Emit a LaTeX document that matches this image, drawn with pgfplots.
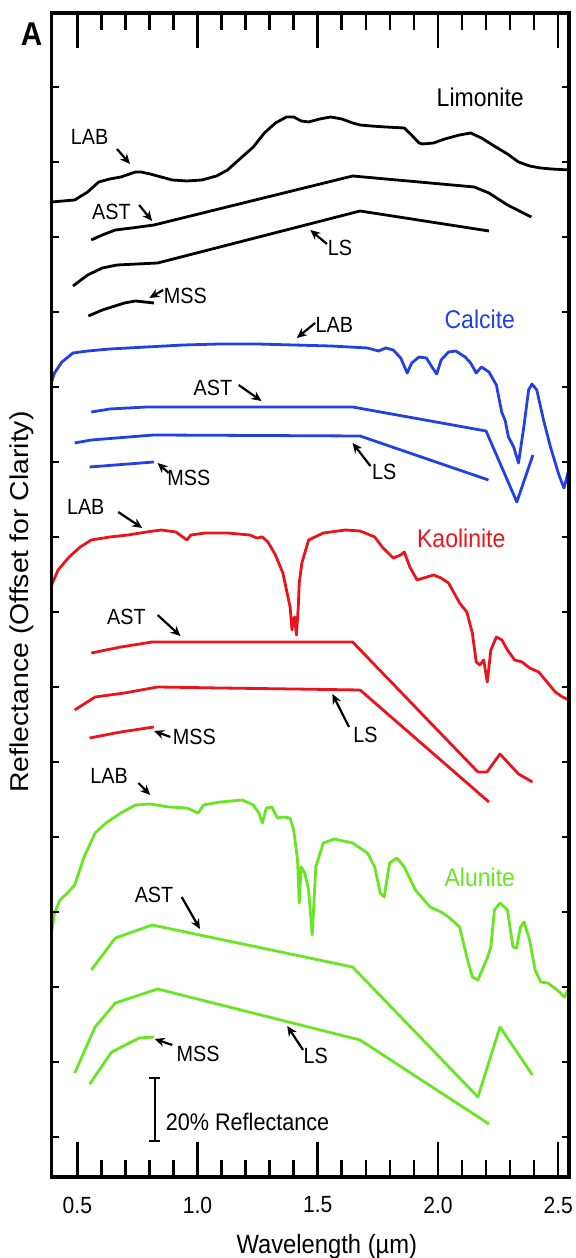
\documentclass[border=0pt]{standalone}
\usepackage{fontspec}
\setmainfont{Liberation Sans}[FakeStretch=0.9]
\newfontfamily\ylabfont{Liberation Sans}[FakeStretch=1.1]
\usepackage{pgfplots}
\pgfplotsset{compat=1.18}
\usetikzlibrary{arrows.meta}
\definecolor{cblue}{RGB}{35,65,225}
\definecolor{cred}{RGB}{232,22,28}
\definecolor{cgreen}{RGB}{105,230,35}

\pgfplotsset{
  boxaxis/.style={
    width=258.7pt, height=582pt, scale only axis,
    at={(0,0)}, anchor=south west,
    xmin=0.393, xmax=2.545,
    axis line style={line width=1.6pt},
  },
  specaxis/.style={boxaxis, ymin=-40, ymax=1124},
}
\tikzset{
  lbl/.style={font=\fontsize{11}{12}\selectfont},
  mineral/.style={font=\fontsize{12.8}{14}\selectfont},
  arr/.style={-{Stealth[length=5pt,width=4.5pt]}, line width=1.1pt, black},
  tk/.style={line width=1.3pt, black},
}

\begin{document}
\begin{tikzpicture}
% data axis
\begin{axis}[specaxis,
  xtick=\empty, ytick=\empty,
  xlabel={Wavelength (µm)},
  xlabel style={font=\fontsize{13.2}{14}\selectfont, at={(axis description cs:0.532,0)}, anchor=center, yshift=-35pt},
  ylabel={\ylabfont Reflectance (Offset for Clarity)},
  ylabel style={font=\fontsize{12.9}{14}\selectfont, at={(axis description cs:-0.058,0.494)}, anchor=center},
  every axis plot/.append style={line width=1.4pt, no markers, line join=round},
]
% ---- Limonite (black)
\addplot[black] coordinates {(0.393,935) (0.489,937) (0.543,945) (0.589,955) (0.635,958) (0.681,960) (0.742,965) (0.765,965) (0.803,963) (0.849,960) (0.895,957) (0.956,956) (1.018,957) (1.079,961) (1.125,967) (1.171,977) (1.232,990) (1.278,1004) (1.324,1014) (1.370,1020) (1.400,1020) (1.431,1016) (1.462,1015) (1.508,1018) (1.554,1020) (1.600,1018) (1.645,1014) (1.676,1012) (1.722,1011) (1.783,1010) (1.860,1009) (1.890,1002) (1.921,994) (1.936,993) (1.982,994) (2.028,998) (2.090,1002) (2.136,1004) (2.181,999) (2.227,992) (2.289,983) (2.335,975) (2.381,971) (2.426,969) (2.472,968) (2.545,967)};
\addplot[black] coordinates {(0.558,897) (0.604,902) (0.658,907) (0.727,909) (0.819,912) (1.645,961) (2.151,950) (2.212,944) (2.289,932) (2.388,920)};
\addplot[black] coordinates {(0.482,851) (0.543,862) (0.604,869) (0.665,872) (0.834,874) (1.676,926) (2.212,906)};
\addplot[black] coordinates {(0.546,821) (0.604,827) (0.696,834) (0.742,836) (0.819,834)};
% ---- Calcite (blue)
\addplot[cblue] coordinates {(0.393,755) (0.405,764) (0.436,775) (0.482,784) (0.543,786) (0.635,788) (0.788,790) (0.941,792) (1.094,793) (1.247,793) (1.400,792) (1.554,791) (1.707,789) (1.753,786) (1.783,789) (1.814,787) (1.845,779) (1.872,764) (1.891,774) (1.921,780) (1.952,779) (1.975,770) (1.995,763) (2.013,777) (2.044,785) (2.074,786) (2.113,780) (2.136,774) (2.159,764) (2.181,770) (2.212,765) (2.243,752) (2.265,725) (2.280,716) (2.293,700) (2.315,690) (2.335,674) (2.357,710) (2.377,747) (2.391,753) (2.411,747) (2.440,716) (2.468,690) (2.503,662) (2.524,649) (2.545,668)};
\addplot[cblue] coordinates {(0.558,725) (0.635,728) (0.788,730) (1.645,730) (2.200,706) (2.328,635) (2.395,682)};
\addplot[cblue] coordinates {(0.489,694) (0.558,697) (0.818,702) (1.676,701) (2.210,657)};
\addplot[cblue] coordinates {(0.551,670) (0.818,675)};
% ---- Kaolinite (red)
\addplot[cred] coordinates {(0.393,552) (0.420,567) (0.466,580) (0.512,590) (0.558,597) (0.635,600) (0.711,602) (0.788,605) (0.849,607) (0.910,605) (0.956,597) (0.972,602) (1.033,604) (1.125,604) (1.217,602) (1.247,599) (1.270,600) (1.293,595) (1.324,582) (1.355,564) (1.370,547) (1.385,530) (1.393,507) (1.397,517) (1.404,520) (1.411,502) (1.419,530) (1.423,554) (1.434,574) (1.462,597) (1.523,604) (1.615,607) (1.676,606) (1.737,600) (1.768,590) (1.814,579) (1.845,582) (1.860,585) (1.883,570) (1.913,557) (1.982,562) (2.013,559) (2.044,554) (2.090,534) (2.120,525) (2.143,504) (2.159,475) (2.174,472) (2.190,477) (2.205,455) (2.220,487) (2.243,500) (2.266,497) (2.289,487) (2.319,477) (2.350,475) (2.381,469) (2.419,465) (2.457,454) (2.488,445) (2.518,440) (2.545,437)};
\addplot[cred] coordinates {(0.558,484) (0.681,490) (0.811,495) (1.645,495) (2.166,365) (2.204,365) (2.258,383) (2.335,363) (2.393,355)};
\addplot[cred] coordinates {(0.489,427) (0.574,440) (0.696,444) (0.834,450) (1.094,449) (1.400,448) (1.676,447) (2.212,335)};
\addplot[cred] coordinates {(0.551,399) (0.681,405) (0.818,410)};
% ---- Alunite (green)
\addplot[cgreen] coordinates {(0.393,205) (0.405,224) (0.428,237) (0.459,244) (0.489,252) (0.528,280) (0.574,304) (0.619,314) (0.681,324) (0.742,332) (0.803,333) (0.880,330) (0.956,329) (1.002,324) (1.025,332) (1.094,335) (1.186,337) (1.232,332) (1.255,324) (1.270,314) (1.286,329) (1.309,330) (1.332,319) (1.355,320) (1.385,319) (1.400,307) (1.416,277) (1.423,234) (1.431,270) (1.446,264) (1.462,247) (1.477,202) (1.492,270) (1.523,294) (1.569,298) (1.645,294) (1.707,284) (1.737,270) (1.760,244) (1.776,240) (1.799,274) (1.829,279) (1.860,270) (1.906,247) (1.967,230) (2.013,225) (2.044,220) (2.090,210) (2.120,180) (2.143,160) (2.166,157) (2.189,170) (2.205,179) (2.220,190) (2.235,227) (2.258,234) (2.289,227) (2.312,190) (2.327,189) (2.343,210) (2.358,215) (2.381,197) (2.404,167) (2.427,155) (2.457,154) (2.496,147) (2.526,140) (2.545,149)};
\addplot[cgreen] coordinates {(0.558,167) (0.658,199) (0.811,212) (1.645,170) (2.166,40) (2.258,110) (2.393,62)};
\addplot[cgreen] coordinates {(0.489,64) (0.574,110) (0.658,134) (0.834,148) (1.676,97) (2.212,13)};
\addplot[cgreen] coordinates {(0.551,53) (0.643,85) (0.757,99) (0.818,100)};

% ---- long x tick marks on bottom and top edges (35 and 17 y-units = 17.5pt and 8.5pt)
\pgfplotsinvokeforeach{0.5,1.0,1.5,2.0,2.5}{
  \draw[tk] (axis cs:#1,-40) -- (axis cs:#1,-5);
  \draw[tk] (axis cs:#1,1124) -- (axis cs:#1,1089);
}
\pgfplotsinvokeforeach{0.6,0.7,0.8,0.9,1.1,1.2,1.3,1.4,1.6,1.7,1.8,1.9,2.1,2.2,2.3,2.4}{
  \draw[tk] (axis cs:#1,-40) -- (axis cs:#1,-23);
  \draw[tk] (axis cs:#1,1124) -- (axis cs:#1,1107);
}

% ---- annotations
\node[mineral] at (axis cs:2.176,1040) {Limonite};
\node[lbl] at (axis cs:0.551,1000) {LAB};
\draw[arr] (axis cs:0.665,988) -- (axis cs:0.719,973);
\node[lbl] at (axis cs:0.642,925) {AST};
\draw[arr] (axis cs:0.757,932) -- (axis cs:0.811,916);
\node[lbl] at (axis cs:1.592,889) {LS};
\draw[arr] (axis cs:1.538,893) -- (axis cs:1.469,907);
\node[lbl] at (axis cs:0.949,841) {MSS};
\draw[arr] (axis cs:0.857,847) -- (axis cs:0.800,839);

\node[mineral, text=cblue] at (axis cs:2.174,818) {Calcite};
\node[lbl] at (axis cs:1.569,812) {LAB};
\draw[arr] (axis cs:1.489,814) -- (axis cs:1.413,799);
\node[lbl] at (axis cs:1.064,749) {AST};
\draw[arr] (axis cs:1.171,752) -- (axis cs:1.266,736);
\node[lbl] at (axis cs:1.776,665) {LS};
\draw[arr] (axis cs:1.719,671) -- (axis cs:1.645,694);
\node[lbl] at (axis cs:0.964,659) {MSS};
\draw[arr] (axis cs:0.880,664) -- (axis cs:0.834,674);

\node[mineral, text=cred] at (axis cs:2.097,599) {Kaolinite};
\node[lbl] at (axis cs:0.535,630) {LAB};
\draw[arr] (axis cs:0.670,625) -- (axis cs:0.770,609);
\node[lbl] at (axis cs:0.704,520) {AST};
\draw[arr] (axis cs:0.834,522) -- (axis cs:0.929,501);
\node[lbl] at (axis cs:1.699,402) {LS};
\draw[arr] (axis cs:1.630,410) -- (axis cs:1.561,443);
\node[lbl] at (axis cs:0.987,400) {MSS};
\draw[arr] (axis cs:0.887,400) -- (axis cs:0.819,406);

\node[mineral, text=cgreen] at (axis cs:2.174,260) {Alunite};
\node[lbl] at (axis cs:0.632,361) {LAB};
\draw[arr] (axis cs:0.754,354) -- (axis cs:0.803,342);
\node[lbl] at (axis cs:0.819,242) {AST};
\draw[arr] (axis cs:0.934,240) -- (axis cs:1.010,208);
\node[lbl] at (axis cs:1.492,81) {LS};
\draw[arr] (axis cs:1.439,87) -- (axis cs:1.373,111);
\node[lbl] at (axis cs:1.002,83) {MSS};
\draw[arr] (axis cs:0.895,92) -- (axis cs:0.822,98);

% scale bar
\draw[line width=1.2pt, {Bar[width=5.5pt]}-{Bar[width=5.5pt]}] (axis cs:0.822,-5) -- (axis cs:0.822,60);
\node[anchor=west, font=\fontsize{12}{13}\selectfont] at (axis cs:0.839,15) {20\% Reflectance};
\end{axis}

% x tick labels
\begin{axis}[boxaxis, ymin=0, ymax=1,
  xtick={0.5,1.0,1.5,2.0,2.5},
  ytick=\empty,
  major tick length=0pt,
  xticklabel={\pgfmathprintnumber[fixed,fixed zerofill,precision=1,assume math mode=true]{\tick}},
  xticklabel style={font=\fontsize{11.7}{12}\selectfont, anchor=center, yshift=-14pt},
]
\addplot[draw=none] coordinates {(1,0.5)};
\end{axis}

% y tick marks (short)
\begin{axis}[specaxis,
  xtick=\empty,
  ytick={0,75,...,1050},
  yticklabels={},
  major tick length=3.6pt,
  every major tick/.append style={line width=1.3pt, black},
]
\addplot[draw=none] coordinates {(1,0)};
\end{axis}

\node[font=\bfseries\fontsize{16.5}{18}\selectfont] at (-10pt,571.5pt) {A};
\pgfresetboundingbox
\path[use as bounding box] (-25.8pt,-40.5pt) rectangle (262.2pt,588.5pt);
\end{tikzpicture}
\end{document}
